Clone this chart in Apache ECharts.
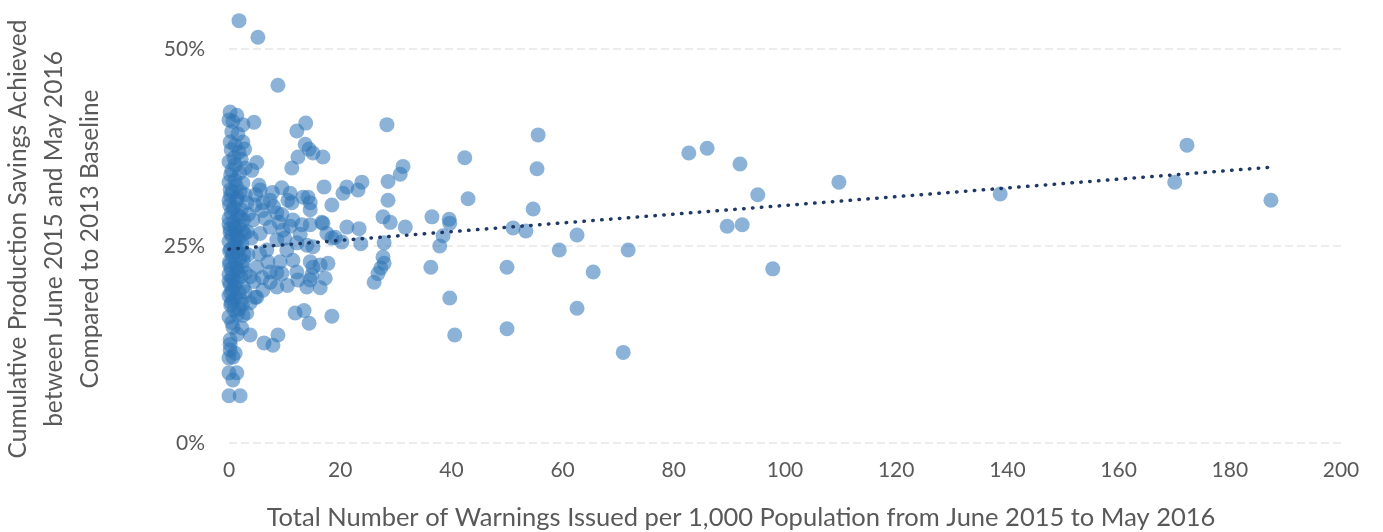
<!DOCTYPE html>
<html>
<head>
<meta charset="utf-8">
<script src="https://cdn.jsdelivr.net/npm/echarts@6/dist/echarts.min.js"></script>
<style>
  html, body { margin: 0; padding: 0; background: #fff; }
  #main { width: 1383px; height: 532px; }
</style>
</head>
<body>
<div id="main"></div>
<script>
// [warnings per 1,000 population, cumulative savings %]
var nearZero = [
  [1.8, 53.6], [0.2, 42.0], [1.4, 41.6], [0, 41.0], [0.7, 40.8], [2.5, 40.4], [0.5, 39.5],
  [0.2, 38.2], [2.5, 38.2], [1.1, 37.8], [0.4, 37.2], [1.8, 36.9], [0, 35.7], [1.1, 35.3],
  [0.5, 34.6], [1.9, 34.3], [0, 33.1], [1.1, 33.4], [2.5, 33.0], [0.2, 32.1], [2.0, 31.9],
  [0, 30.8], [1.4, 30.8], [0.3, 31.4], [1.5, 31.2], [2.9, 31.5], [0.6, 31.9], [1.3, 32.6],
  [0.9, 36.2], [2.2, 36.0], [0.3, 34.0], [1.6, 39.2], [2.8, 37.3],
  [0.1, 30.2], [1.0, 29.9], [2.2, 29.6], [0.4, 29.2], [1.6, 28.9], [0.0, 28.5], [2.6, 28.3],
  [0.8, 28.0], [1.9, 27.6], [0.2, 27.2], [1.2, 26.9], [2.8, 26.6], [0.5, 26.3], [1.7, 25.9],
  [0.0, 25.6], [2.3, 25.3], [0.9, 25.0], [0.3, 24.6], [1.5, 24.3], [2.7, 24.0], [0.6, 23.7],
  [1.9, 23.4], [0.1, 23.0], [1.1, 22.7], [2.4, 22.4], [0.4, 22.1], [1.6, 21.7], [0.0, 21.4],
  [2.1, 21.1], [0.8, 20.8], [1.3, 20.4], [0.2, 20.1], [2.6, 19.8], [0.6, 19.4], [1.8, 19.1],
  [0.0, 18.7], [1.2, 18.4], [2.2, 18.1], [0.4, 17.8], [0.9, 16.9], [1.5, 16.3],
  [0.7, 29.7], [2.0, 28.7], [0.2, 26.7], [1.4, 26.2], [2.0, 24.8], [0.7, 24.1], [0.1, 22.6],
  [1.4, 22.2], [2.9, 21.6], [0.5, 21.0], [1.0, 19.9], [2.9, 19.2], [0.3, 19.0], [0.1, 24.4],
  [1.0, 27.4], [2.4, 27.0], [0.0, 27.8], [2.6, 23.1], [1.2, 25.4], [0.0, 20.5], [2.4, 17.6],
  [0.7, 18.1], [1.8, 17.0], [0.3, 17.5], [0.5, 15.3], [1.5, 13.8], [0.2, 12.5],
  [0, 16.0], [2.5, 16.2], [0.7, 14.7], [2.3, 14.6], [0.2, 13.1], [0.2, 11.8], [1.1, 11.4],
  [0, 10.8], [0.7, 10.9], [0, 8.9], [1.4, 8.9], [0.7, 8.0], [0, 6.0], [2.0, 6.0]
];

var lowRange = [
  [5.2, 51.5], [8.8, 45.4], [12.2, 39.6], [13.8, 40.6], [4.5, 40.7], [13.7, 37.9], [14.4, 37.3],
  [15.1, 36.8], [16.9, 36.3], [12.4, 36.3], [11.3, 34.9], [5.0, 35.6], [17.1, 32.5], [2.9, 34.9],
  [4.1, 34.6], [5.4, 32.7], [5.6, 32.1], [3.2, 30.5], [4.7, 30.2], [9.5, 32.4], [11.0, 31.7],
  [10.6, 30.8], [13.3, 31.2], [14.2, 31.2], [14.6, 30.5], [7.4, 30.8], [6.1, 30.5], [18.5, 30.2],
  [14.6, 29.6], [11.3, 30.5], [14.6, 27.7], [11.5, 28.3], [13.1, 27.7], [16.9, 27.9], [17.6, 26.6],
  [19.1, 26.1], [14.0, 25.1], [12.2, 25.4], [8.6, 29.2], [7.4, 27.4], [9.7, 27.0], [4.3, 28.3],
  [5.6, 26.6], [8.6, 25.8], [6.8, 24.5], [10.4, 24.5], [11.5, 23.2], [9.2, 23.0], [12.2, 21.7],
  [14.6, 23.0], [16.4, 22.6], [17.8, 22.8], [17.3, 20.9], [14.6, 20.7], [16.4, 19.7], [14.0, 19.8],
  [7.4, 20.4], [8.6, 19.8], [6.1, 19.4], [5.0, 18.5], [3.8, 17.8], [11.9, 16.5], [13.5, 16.8],
  [14.4, 15.2], [18.5, 16.1], [7.4, 21.7], [5.0, 22.3], [3.4, 23.9], [3.8, 21.1], [8.6, 21.6],
  [3.8, 13.7], [6.3, 12.7], [7.9, 12.4], [8.8, 13.7], [15.1, 22.3], [12.4, 20.7], [14.9, 21.3],
  [16.7, 28.0], [18.5, 26.0], [15.1, 24.9], [3.2, 16.5], [4.7, 18.5],
  [4.0, 26.0], [6.5, 28.5], [9.0, 28.0], [10.0, 26.0], [7.0, 23.0], [5.5, 24.0], [4.5, 20.5],
  [6.0, 29.5], [8.0, 30.0], [9.5, 29.0], [12.8, 26.5], [11.0, 27.5], [3.5, 29.0], [6.0, 21.0],
  [9.5, 21.5], [10.5, 20.0], [3.3, 26.8], [4.8, 31.5], [7.8, 31.8]
];

var midRange = [
  [28.4, 40.4], [55.6, 39.1], [55.4, 34.8], [42.4, 36.2], [31.3, 35.1], [30.8, 34.1], [28.6, 33.2],
  [23.9, 33.1], [23.2, 32.1], [21.2, 32.5], [20.5, 31.7], [43.0, 31.0], [28.6, 30.8], [54.7, 29.7],
  [36.5, 28.7], [39.6, 28.4], [39.7, 27.9], [31.7, 27.4], [51.1, 27.3], [53.4, 26.9], [38.5, 26.3],
  [37.9, 25.0], [36.3, 22.3], [50.0, 22.3], [39.7, 18.4], [40.6, 13.7], [50.0, 14.5], [27.7, 28.7],
  [29.0, 28.0], [21.2, 27.4], [23.4, 27.2], [20.3, 25.5], [23.7, 25.3], [27.9, 25.4], [27.7, 23.6],
  [27.9, 22.8], [27.3, 22.2], [26.8, 21.5], [26.1, 20.4]
];

var highRange = [
  [62.6, 26.4], [59.4, 24.5], [71.8, 24.5], [65.5, 21.7], [62.6, 17.1], [70.9, 11.5], [82.7, 36.8],
  [86.0, 37.4], [91.9, 35.4], [95.1, 31.5], [109.7, 33.1], [89.6, 27.5], [92.3, 27.7], [97.8, 22.1],
  [138.7, 31.6], [170.1, 33.1], [172.3, 37.8], [187.4, 30.8]
];

// linear trendline ends
var trendLine = [[0, 24.6], [187.4, 35.0]];

var xTitle = 'Total Number of Warnings Issued per 1,000 Population from June 2015 to May 2016';
var yTitle = ['Cumulative Production Savings Achieved', 'between June 2015 and May 2016', 'Compared to 2013 Baseline'];

var textFont = 'Lato, "Open Sans", sans-serif';
var chart = echarts.init(document.getElementById('main'));

chart.setOption({
  animation: false,
  grid: { left: 229, right: 42, top: 49, bottom: 89 },
  xAxis: {
    type: 'value',
    min: 0,
    max: 200,
    interval: 20,
    axisLine: { show: false },
    axisTick: { show: false },
    splitLine: { show: false },
    axisLabel: { color: '#595959', fontSize: 21, fontFamily: textFont, margin: 17 }
  },
  yAxis: {
    type: 'value',
    min: 0,
    max: 50,
    interval: 25,
    axisLine: { show: false },
    axisTick: { show: false },
    axisLabel: { color: '#595959', fontSize: 21, fontFamily: textFont, margin: 24, formatter: '{value}%' },
    splitLine: { lineStyle: { color: '#e8e8e8', width: 1.5, type: [8, 4] } }
  },
  graphic: [
    {
      type: 'text', x: 741, y: 518,
      style: {
        text: xTitle, fill: '#595959', font: '25.5px ' + textFont,
        align: 'center', verticalAlign: 'middle'
      }
    },
    {
      type: 'text', x: 54, y: 239, rotation: Math.PI / 2,
      style: {
        text: yTitle.join('\n'), fill: '#595959', font: '24.5px ' + textFont,
        align: 'center', verticalAlign: 'middle', lineHeight: 36
      }
    }
  ],
  series: [
    {
      type: 'scatter',
      clip: false,
      symbolSize: 15,
      itemStyle: { color: '#2e75b6', opacity: 0.55 },
      data: nearZero.concat(lowRange, midRange, highRange)
    },
    {
      type: 'line',
      z: 5,
      symbol: 'none',
      lineStyle: { color: '#1f3864', width: 3.5, type: [0.5, 8.4], cap: 'round' },
      data: trendLine
    }
  ]
});
</script>
</body>
</html>
